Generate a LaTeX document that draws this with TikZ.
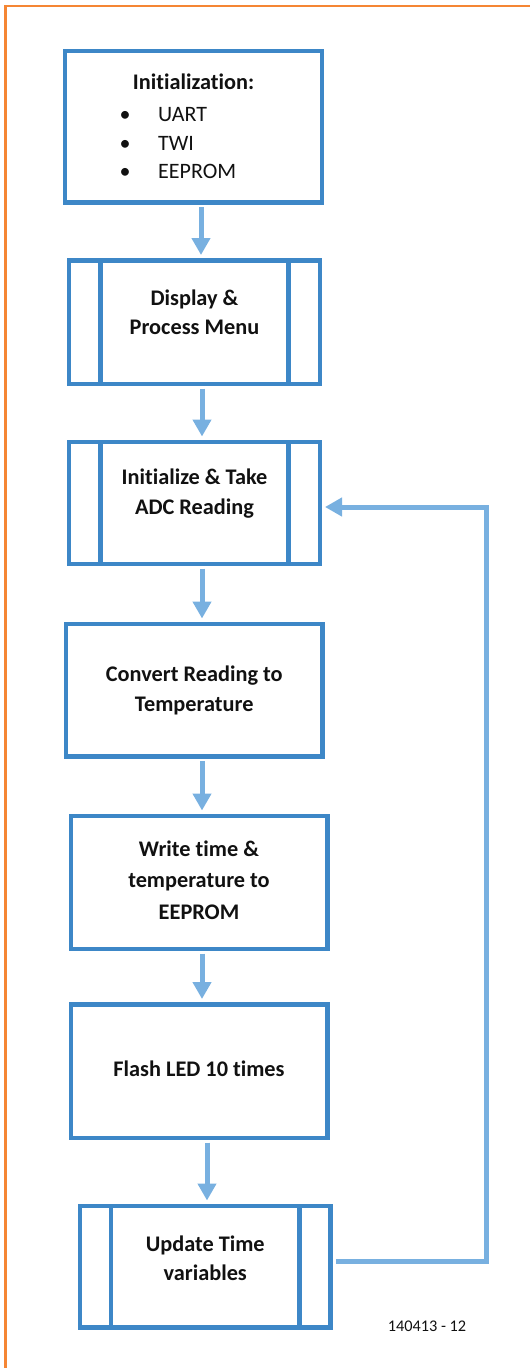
\documentclass[tikz,border=0pt]{standalone}
\usepackage{fontspec}
\setmainfont{Carlito}[Ligatures={NoCommon}]
\usetikzlibrary{arrows.meta}
\definecolor{boxblue}{HTML}{3D87C7}
\definecolor{arrblue}{HTML}{78B0E0}
\definecolor{frameorange}{HTML}{F58634}
\definecolor{txt}{HTML}{111111}
\tikzset{
  box/.style={draw=boxblue, line width=4.5pt, rectangle, outer sep=0pt, inner sep=0pt, line join=miter},
  inner/.style={draw=boxblue, line width=4.5pt},
  arr/.style={draw=arrblue, line width=5pt, -{Triangle[width=18pt,length=17pt]}, line join=miter},
  btxt/.style={anchor=base, inner sep=0pt, text=txt, font=\fontsize{22.3}{26}\selectfont\bfseries},
  rtxt/.style={anchor=base west, inner sep=0pt, text=txt, font=\fontsize{22}{26}\selectfont},
  bul/.style={anchor=base, inner sep=0pt, text=txt, font=\fontsize{22}{26}\selectfont},
  lbl/.style={anchor=base, inner sep=0pt, text=txt, font=\fontsize{16.3}{19}\selectfont}
}
\begin{document}
\begin{tikzpicture}[x=1pt,y=-1pt]
\useasboundingbox (0,0) rectangle (530,1368);
% frame
\draw[frameorange, line width=2.3pt] (530,6.2) -- (5.5,6.2) -- (5.5,1368);
% boxes
\node[box, minimum width=257pt, minimum height=151.5pt] (b1) at (193.5,126.75) {};
\node[box, minimum width=251pt, minimum height=123.5pt] (b2) at (194.5,322.25) {};
\node[box, minimum width=251pt, minimum height=122pt] (b3) at (194.5,503) {};
\node[box, minimum width=256.5pt, minimum height=132.5pt] (b4) at (194.25,690.25) {};
\node[box, minimum width=256.5pt, minimum height=133pt] (b5) at (199.25,882.5) {};
\node[box, minimum width=256.5pt, minimum height=133.5pt] (b6) at (199.25,1071.25) {};
\node[box, minimum width=250.5pt, minimum height=121.5pt] (b7) at (205.25,1266.75) {};
% predefined-process side bars
\foreach \b/\d in {b2/31.5, b3/31.5, b7/31} {
  \draw[inner] ([xshift=\d pt]\b.north west) -- ([xshift=\d pt]\b.south west);
  \draw[inner] ([xshift=-\d pt]\b.north east) -- ([xshift=-\d pt]\b.south east);
}
% texts
\node[btxt] (t1) at (193.5,89) {Initialization:};
\node[bul] (u1) at (125,121.7) {•};
\node[bul] (u2) at (125,150.7) {•};
\node[bul] (u3) at (125,178) {•};
\node[rtxt] (t1a) at (158,121.7) {UART};
\node[rtxt] (t1b) at (158,150.7) {TWI};
\node[rtxt] (t1c) at (158,178) {EEPROM};
\node[btxt] (t2a) at (194.5,305.7) {Display \&};
\node[btxt] (t2b) at (194.5,334.3) {Process Menu};
\node[btxt] (t3a) at (194.5,484.5) {Initialize \& Take};
\node[btxt] (t3b) at (194.5,514) {ADC Reading};
\node[btxt] (t4a) at (194.25,681) {Convert Reading to};
\node[btxt] (t4b) at (194.25,711) {Temperature};
\node[btxt] (t5a) at (199,856) {Write time \&};
\node[btxt] (t5b) at (199,887.5) {temperature to};
\node[btxt] (t5c) at (199,919) {EEPROM};
\node[btxt] (t6) at (199,1076) {Flash LED 10 times};
\node[btxt] (t7a) at (205.25,1251) {Update Time};
\node[btxt] (t7b) at (205.25,1280) {variables};
\node[lbl] (id) at (427,1331.7) {140413 - 12};
% arrows
\foreach \a/\b/\x in {b1/b2/201, b2/b3/202, b3/b4/202, b4/b5/202, b5/b6/202, b6/b7/207} {
  \draw[arr, shorten <=4.5pt, shorten >=5.5pt] (\a.south -| \x,0) -- (\b.north -| \x,0);
}
% loop back
\coordinate (s) at ([yshift=5.75pt]b7.east);
\coordinate (t) at ([yshift=-4pt]b3.east);
\coordinate (loopx) at (486.5,0);
\draw[arr, shorten <=5.5pt, shorten >=5pt] (s) -- (s -| loopx) |- (t);
\end{tikzpicture}
\end{document}
